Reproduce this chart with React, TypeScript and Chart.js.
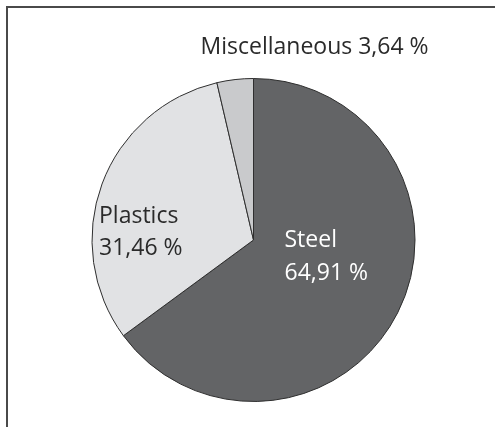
import React, { useEffect, useRef } from "react";
import { Chart, registerables } from "chart.js";

Chart.register(...registerables);

const categories = ["Steel", "Plastics", "Miscellaneous"];
const values = [64.91, 31.46, 3.64];
const valueLabels = ["64,91 %", "31,46 %", "3,64 %"];
const colors = ["#636466", "#e1e2e4", "#c9cacc"];

const FONT = '400 23px "Open Sans", sans-serif';

const framePlugin = {
  id: "frame",
  beforeDraw(chart: any) {
    const ctx = chart.ctx;
    ctx.save();
    ctx.fillStyle = "#ffffff";
    ctx.fillRect(0, 0, chart.width, chart.height);
    ctx.strokeStyle = "#4a4a4a";
    ctx.lineWidth = 2;
    ctx.beginPath();
    ctx.moveTo(7, chart.height);
    ctx.lineTo(7, 7);
    ctx.lineTo(chart.width, 7);
    ctx.stroke();
    ctx.restore();
  },
};

const labelPlugin = {
  id: "sliceLabels",
  afterDraw(chart: any) {
    const meta = chart.getDatasetMeta(0);
    const arc = meta.data[0];
    if (!arc) return;
    const cx = arc.x;
    const cy = arc.y;
    const r = arc.outerRadius;
    const ctx = chart.ctx;
    ctx.save();
    ctx.font = FONT;
    ctx.textBaseline = "alphabetic";
    ctx.textAlign = "left";
    // Steel
    ctx.fillStyle = "#ffffff";
    ctx.fillText(categories[0], cx + 31, cy + 7);
    ctx.fillText(valueLabels[0], cx + 31, cy + 40);
    // Plastics
    ctx.fillStyle = "#2a2a2a";
    ctx.fillText(categories[1], cx - r + 7, cy - 17);
    ctx.fillText(valueLabels[1], cx - r + 7, cy + 15);
    // Miscellaneous
    ctx.fillText(categories[2] + " " + valueLabels[2], cx - 53, cy - r - 25);
    ctx.restore();
  },
};

export default function App() {
  const ref = useRef<HTMLCanvasElement>(null);
  useEffect(() => {
    document.body.style.margin = "0";
    const chart = new Chart(ref.current!, {
      type: "pie",
      data: {
        labels: categories,
        datasets: [
          {
            data: values,
            backgroundColor: colors,
            borderColor: "#2f2f2f",
            borderWidth: 1,
          },
        ],
      },
      options: {
        responsive: false,
        animation: false,
        layout: { padding: { left: 91, right: 79, top: 78, bottom: 25 } },
        plugins: {
          legend: { display: false },
          tooltip: { enabled: false },
        },
      },
      plugins: [framePlugin, labelPlugin],
    });
    return () => chart.destroy();
  }, []);
  return (
    <div style={{ position: "absolute", left: 0, top: 0, width: 495, height: 427 }}>
      <canvas ref={ref} width={495} height={427} />
    </div>
  );
}
